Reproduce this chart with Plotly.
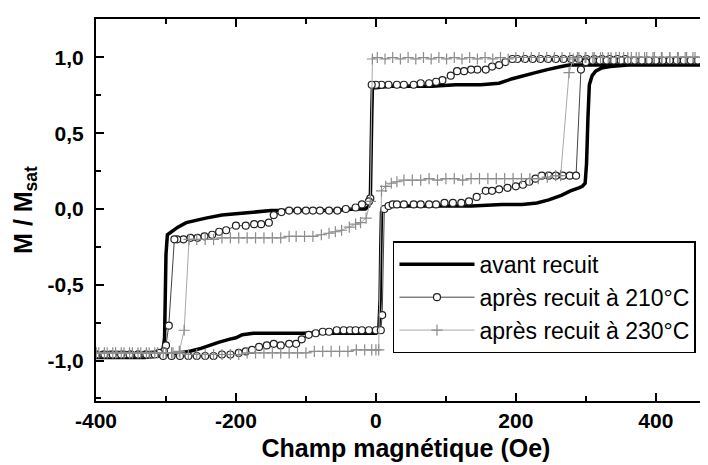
import plotly.graph_objects as go

# ---------------- data ----------------
# Series 1 : avant recuit (thick black line)
H_avant_desc = [486, 440, 400, 360, 330, 310, 290, 276, 265, 257, 245, 228, 209, 195, 176, 150, 114, 80, 50, 20, 0,
                -5, -6, -7, -8, -10, -15, -30, -60, -100, -150, -196, -220, -243, -260, -271, -283, -293, -298,
                -300, -301, -302, -304, -308, -315, -330, -360, -400]
M_avant_desc = [0.95, 0.95, 0.95, 0.95, 0.95, 0.95, 0.95, 0.95, 0.94, 0.93, 0.92, 0.90, 0.88, 0.86, 0.83, 0.82, 0.82,
                0.81, 0.81, 0.81, 0.80, 0.80, 0.60, 0.25, 0.05, 0.02, 0.0, 0.0, -0.01, -0.01, -0.01, -0.03, -0.04,
                -0.06, -0.08, -0.09, -0.12, -0.15, -0.17, -0.30, -0.60, -0.85, -0.92, -0.95, -0.97, -0.98, -0.98, -0.98]
H_avant_asc = [-400, -360, -330, -310, -300, -285, -267, -250, -239, -225, -210, -200, -191, -175, -149, -100, -50,
               -20, 0, 4, 6, 7, 8, 10, 15, 30, 60, 100, 137, 180, 209, 230, 247, 265, 278, 290, 295, 299, 301, 303,
               305, 309, 314, 322, 335, 360, 400, 440, 486]
M_avant_asc = [-0.98, -0.98, -0.97, -0.97, -0.96, -0.95, -0.94, -0.92, -0.90, -0.88, -0.86, -0.85, -0.83, -0.82,
               -0.82, -0.82, -0.82, -0.82, -0.82, -0.81, -0.60, -0.25, -0.02, 0.01, 0.02, 0.02, 0.02, 0.02, 0.02,
               0.03, 0.03, 0.04, 0.06, 0.09, 0.12, 0.14, 0.15, 0.17, 0.30, 0.60, 0.82, 0.88, 0.91, 0.93, 0.94,
               0.95, 0.95, 0.95, 0.95]

# Series 2 : après recuit à 210°C (open circles)
H_210_desc = [486, 476, 466, 456, 446, 436, 426, 416, 406, 396, 386, 376, 366,
              356, 345, 334, 323, 312, 301, 290, 279, 268, 257, 246, 235, 224, 213, 202,
              195, 185, 176, 166, 157, 145, 136, 126, 116, 107, 95, 86, 76, 64, 54, 40, 30, 18, 8, 0, -6,
              -8, -10, -20, -29, -43, -55, -67, -80, -90, -100, -112, -124, -135, -146, -153, -164, -174, -186,
              -200, -214, -224, -234, -245, -255, -265, -275, -284, -288, -296, -300, -303, -310,
              -320, -330, -340, -350, -360, -370, -380, -390, -400]
M_210_desc = [0.98, 0.98, 0.98, 0.98, 0.98, 0.98, 0.98, 0.98, 0.98, 0.98, 0.98, 0.98, 0.98,
              0.99, 0.99, 0.99, 0.99, 0.99, 0.99, 0.99, 0.99, 0.99, 0.99, 0.99, 0.99, 0.99, 0.99, 0.99,
              0.99, 0.97, 0.95, 0.94, 0.92, 0.92, 0.92, 0.91, 0.91, 0.88, 0.85, 0.84, 0.83, 0.83, 0.82, 0.82,
              0.82, 0.82, 0.82, 0.82, 0.82,
              0.07, 0.05, 0.03, 0.01, 0.0, -0.01, -0.01, -0.01, -0.01, -0.01, -0.01, -0.01, -0.02, -0.04, -0.09,
              -0.10, -0.10, -0.11, -0.11, -0.14, -0.15, -0.17, -0.18, -0.19, -0.19, -0.20, -0.20, -0.20, -0.77,
              -0.90, -0.94, -0.95, -0.96, -0.96, -0.96, -0.96, -0.96, -0.96, -0.96, -0.96, -0.96]
H_210_asc = [-400, -388, -376, -364, -352, -340, -328, -316, -304, -292, -280, -268, -256, -244, -232, -220, -208,
             -196, -186, -177, -167, -156, -146, -136, -124, -114, -106, -96, -86, -76, -67, -56, -46, -37, -29,
             -20, -10, 0, 7, 9, 12, 18, 24, 30, 40, 54, 64, 76, 86, 98, 110, 122, 133, 144, 157, 166, 176, 188,
             200, 210, 219, 228, 237, 247, 257, 267, 277, 286, 293, 300, 310, 320, 330, 340, 350, 360, 370, 380,
             390, 400, 410, 420, 430, 440, 450, 460, 470, 480, 486]
M_210_asc = [-0.96, -0.96, -0.96, -0.96, -0.96, -0.96, -0.96, -0.96, -0.97, -0.97, -0.97, -0.97, -0.97, -0.97,
             -0.97, -0.96, -0.96, -0.95, -0.94, -0.93, -0.91, -0.90, -0.89, -0.90, -0.89, -0.89, -0.86, -0.83,
             -0.82, -0.81, -0.81, -0.80, -0.80, -0.80, -0.80, -0.80, -0.80, -0.80, -0.80, -0.70, 0.0, 0.02, 0.03,
             0.03, 0.03, 0.03, 0.03, 0.03, 0.03, 0.04, 0.04, 0.04, 0.05, 0.08, 0.12, 0.12, 0.13, 0.14, 0.15, 0.16,
             0.18, 0.20, 0.22, 0.22, 0.22, 0.22, 0.22, 0.22, 0.92, 0.97, 0.98, 0.98, 0.98, 0.98, 0.98, 0.98, 0.98,
             0.98, 0.98, 0.98, 0.98, 0.98, 0.98, 0.98, 0.98, 0.98, 0.98, 0.98, 0.98]

# Series 3 : après recuit à 230°C (crosses, light grey)
H_230_desc = [486, 475, 464, 453, 442, 431, 420, 409, 398, 387, 376, 365, 354, 343, 332, 321, 310, 299, 288, 277,
              266, 255, 244, 233, 222, 211, 200, 189, 178, 167, 156, 145, 134, 123, 112, 101, 90, 79, 68, 57, 46,
              35, 24, 13, 2, -5,
              -8, -14, -22, -29, -38, -49, -58, -67, -78, -90, -102, -114, -124, -136, -148, -160, -172, -184,
              -196, -208, -220, -232, -244, -256, -267, -274, -281, -290, -300, -312, -324, -336, -348, -360,
              -372, -384, -396, -400]
M_230_desc = [1.0, 1.0, 1.0, 1.0, 1.0, 1.0, 1.0, 1.0, 1.0, 1.0, 1.0, 1.0, 1.0, 1.0, 1.0, 1.0, 1.0, 1.0, 1.0, 1.0,
              1.0, 1.0, 1.0, 1.0, 1.0, 1.0, 1.0, 0.99, 1.0, 0.99, 1.0, 0.99, 1.0, 0.99, 1.0, 0.99, 1.0, 0.99, 1.0,
              0.99, 1.0, 0.99, 1.0, 0.99, 1.0, 0.99,
              0.05, -0.06, -0.09, -0.10, -0.12, -0.14, -0.15, -0.16, -0.17, -0.18, -0.18, -0.18, -0.18, -0.19,
              -0.19, -0.19, -0.19, -0.19, -0.19, -0.19, -0.19, -0.20, -0.20, -0.20, -0.20, -0.80, -0.94, -0.95,
              -0.95, -0.95, -0.95, -0.95, -0.95, -0.95, -0.95, -0.95, -0.95, -0.95]
H_230_asc = [-400, -388, -376, -364, -352, -340, -328, -316, -304, -292, -280, -268, -256, -244, -232, -220, -208,
             -196, -184, -172, -160, -148, -136, -124, -112, -100, -88, -76, -64, -52, -40, -28, -16, -6, 0, 4,
             8, 14, 22, 30, 40, 52, 64, 76, 88, 100, 112, 124, 136, 148, 160, 172, 184, 196, 208, 220, 232, 245,
             257, 264, 276, 282, 290, 300, 312, 324, 336, 348, 360, 372, 384, 396, 408, 420, 432, 444, 456, 468,
             480, 486]
M_230_asc = [-0.95, -0.95, -0.95, -0.95, -0.95, -0.95, -0.95, -0.95, -0.95, -0.95, -0.95, -0.96, -0.96, -0.96,
             -0.96, -0.96, -0.96, -0.96, -0.95, -0.95, -0.95, -0.95, -0.95, -0.95, -0.95, -0.95, -0.94, -0.94,
             -0.94, -0.94, -0.94, -0.93, -0.93, -0.93, -0.93, -0.93,
             0.12, 0.15, 0.17, 0.18, 0.19, 0.19, 0.19, 0.20, 0.19, 0.20, 0.20, 0.19, 0.20, 0.20, 0.20, 0.20, 0.20,
             0.20, 0.20, 0.20, 0.20, 0.21, 0.22, 0.22, 0.90, 0.99, 1.0, 1.0, 1.0, 1.0, 1.0, 1.0, 1.0, 1.0, 1.0,
             1.0, 1.0, 1.0, 1.0, 1.0, 1.0, 1.0, 1.0, 1.0]

series_names = ["avant recuit", "après recuit à 210°C", "après recuit à 230°C"]

x_tickvals = [-400, -200, 0, 200, 400]
x_ticktext = ["-400", "-200", "0", "200", "400"]
y_tickvals = [-1.0, -0.5, 0.0, 0.5, 1.0]
y_ticktext = ["-1,0", "-0,5", "0,0", "0,5", "1,0"]

FONT = "Liberation Sans, Arial, sans-serif"

# ---------------- figure ----------------
fig = go.Figure()

fig.add_trace(go.Scatter(
    x=H_avant_desc + H_avant_asc, y=M_avant_desc + M_avant_asc,
    mode="lines", name=series_names[0],
    line=dict(color="black", width=3.5),
))
fig.add_trace(go.Scatter(
    x=H_210_desc + H_210_asc, y=M_210_desc + M_210_asc,
    mode="lines+markers", name=series_names[1],
    line=dict(color="#444444", width=1),
    marker=dict(symbol="circle", size=7, color="white", line=dict(color="#222222", width=1.2)),
))
fig.add_trace(go.Scatter(
    x=H_230_desc + H_230_asc, y=M_230_desc + M_230_asc,
    mode="lines+markers", name=series_names[2],
    line=dict(color="#a8a8a8", width=1),
    marker=dict(symbol="cross-thin", size=8, color="#8c8c8c", line=dict(color="#8c8c8c", width=1.2)),
))

axis_common = dict(
    showline=True, linecolor="black", linewidth=2,
    ticks="inside", ticklen=8, tickwidth=2, tickcolor="black",
    showgrid=False, zeroline=False,
    tickfont=dict(family=FONT, size=21, color="black", weight="bold"),
)

fig.update_xaxes(
    **axis_common,
    range=[-400, 486], mirror="ticks",
    tickmode="array", tickvals=x_tickvals, ticktext=x_ticktext,
    minor=dict(tickmode="linear", tick0=0, dtick=100, ticks="inside", ticklen=5, tickwidth=1.5, tickcolor="black"),
    ticklabelstandoff=0,
    title=dict(text="Champ magnétique (Oe)", standoff=8,
               font=dict(family=FONT, size=25, color="black", weight="bold")),
)
fig.update_yaxes(
    **axis_common,
    range=[-1.267, 1.254], mirror=False,
    tickmode="array", tickvals=y_tickvals, ticktext=y_ticktext,
    minor=dict(tickmode="linear", tick0=0, dtick=0.25, ticks="inside", ticklen=5, tickwidth=1.5, tickcolor="black"),
    ticklabelstandoff=6,
    title=dict(text="M / M<sub>sat</sub>", standoff=8,
               font=dict(family=FONT, size=25, color="black", weight="bold")),
)

fig.update_layout(
    width=708, height=465,
    margin=dict(l=88, r=0, t=11, b=72),
    plot_bgcolor="white", paper_bgcolor="white",
    font=dict(family=FONT, color="black"),
    showlegend=True,
    legend=dict(
        x=0.479, y=0.418, xanchor="left", yanchor="top",
        bgcolor="white", bordercolor="black", borderwidth=1.5,
        font=dict(family=FONT, size=23, color="black"),
        itemwidth=75, tracegroupgap=0,
    ),
)

fig.write_html("out.html")
